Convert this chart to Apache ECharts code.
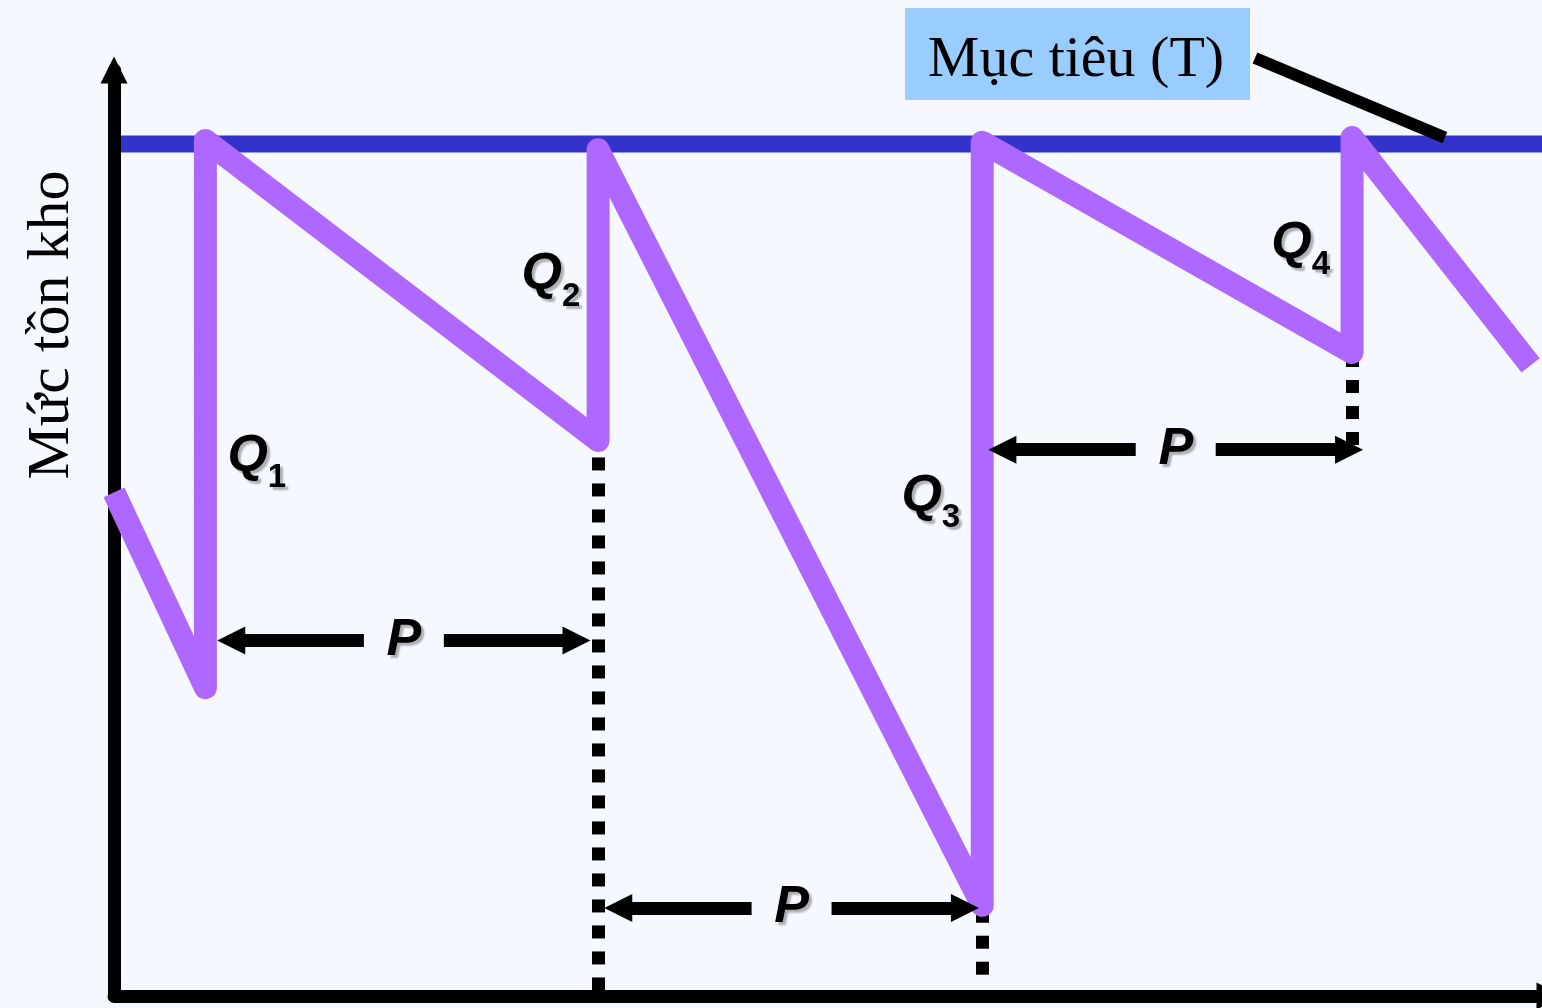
<!DOCTYPE html>
<html>
<head>
<meta charset="utf-8">
<script src="https://cdn.jsdelivr.net/npm/echarts@6/dist/echarts.min.js"></script>
<style>
  html, body { margin: 0; padding: 0; background: #F5F9FF; }
  #chart { width: 1542px; height: 1008px; }
</style>
</head>
<body>
<div id="chart"></div>
<script>
// inventory level over time (x: time 0-100, y: stock 0-100)
const inventoryPath = [
  [0, 54.4], [6.4, 33.3], [6.4, 92.4],
  [33.9, 60.0], [33.9, 91.4],
  [60.8, 9.8], [60.8, 92.2],
  [86.7, 69.5], [86.7, 92.7],
  [99.2, 68.1]
];
const targetLevel = 92.0;
const targetName = 'Mục tiêu (T)';
const yTitle = 'Mức tồn kho';

// review period arrows: [from, to, level]
const periodArrows = [
  [7.3, 33.3, 38.4],
  [34.4, 60.5, 9.5],
  [61.3, 87.4, 59.0]
];
// dotted drop lines: [x, yFrom, yTo]
const dropLines = [
  [33.9, 0.6, 59.5],
  [60.8, 2.3, 9.3],
  [86.7, 59.5, 69.2]
];
// order quantity labels
const orderNames = ['1', '2', '3', '4'];
const orderLabelPos = [[10.0, 57.6], [30.6, 77.2], [57.2, 53.3], [83.1, 80.6]];
// pointer from target label to target line
const targetPointer = [[79.9, 101.3], [93.2, 92.7]];

const ARROW_INSET = 0.91;
const GAP = 2.8;
const shadow = {
  textShadowColor: 'rgba(0,0,0,0.3)',
  textShadowBlur: 2,
  textShadowOffsetX: 3,
  textShadowOffsetY: 3,
  textBorderWidth: 0
};
const sans = '"Liberation Sans", Arial, sans-serif';
const serif = '"Liberation Serif", "Times New Roman", serif';

const chart = echarts.init(document.getElementById('chart'));

function axis(endOffset) {
  return {
    type: 'value',
    min: 0,
    max: 100,
    z: 1,
    axisLine: {
      show: true,
      symbol: ['none', 'triangle'],
      symbolSize: [27, 27],
      symbolOffset: [0, endOffset],
      lineStyle: { color: '#000', width: 13, cap: 'round' }
    },
    axisTick: { show: false },
    axisLabel: { show: false },
    splitLine: { show: false }
  };
}

chart.setOption({
  backgroundColor: '#F5F9FF',
  animation: false,
  grid: { left: 114, right: 0, top: 70, bottom: 12 },
  xAxis: axis(8),
  yAxis: axis(0),
  graphic: [
    {
      type: 'rect',
      shape: { x: 905, y: 8, width: 345, height: 92 },
      style: { fill: '#99CCFF' },
      z: 10
    },
    {
      type: 'text',
      x: 1076, y: 61,
      style: {
        text: targetName,
        fontSize: 58,
        fontFamily: serif,
        fill: '#000',
        align: 'center',
        verticalAlign: 'middle'
      },
      z: 11
    },
    {
      type: 'text',
      x: 52, y: 325,
      rotation: Math.PI / 2,
      style: {
        text: yTitle,
        fontSize: 60,
        fontFamily: serif,
        fill: '#000',
        align: 'center',
        verticalAlign: 'middle'
      }
    }
  ],
  series: [
    {
      name: 'target',
      type: 'line',
      z: 0.5,
      data: [[0, targetLevel], [100, targetLevel]],
      symbol: 'none',
      lineStyle: { color: '#3333CC', width: 17 }
    },
    {
      name: 'drop',
      type: 'lines',
      coordinateSystem: 'cartesian2d',
      data: dropLines.map(([x, y1, y2]) => ({ coords: [[x, y1], [x, y2]] })),
      symbol: 'none',
      lineStyle: { color: '#000', width: 13, opacity: 1, type: [13, 13], cap: 'butt' }
    },
    {
      name: 'inventory',
      type: 'line',
      z: 3,
      data: inventoryPath,
      symbol: 'none',
      lineStyle: { color: '#AF68FF', width: 23, join: 'round', cap: 'butt' }
    },
    {
      name: 'arrowLeft',
      type: 'lines',
      coordinateSystem: 'cartesian2d',
      z: 4,
      data: periodArrows.map(([a, b, y]) => ({ coords: [[a + ARROW_INSET, y], [(a + b) / 2 - GAP, y]] })),
      symbol: ['triangle', 'none'],
      symbolSize: 28,
      lineStyle: { color: '#000', width: 13, opacity: 1 }
    },
    {
      name: 'arrowRight',
      type: 'lines',
      coordinateSystem: 'cartesian2d',
      z: 4,
      data: periodArrows.map(([a, b, y]) => ({ coords: [[(a + b) / 2 + GAP, y], [b - ARROW_INSET, y]] })),
      symbol: ['none', 'triangle'],
      symbolSize: 28,
      lineStyle: { color: '#000', width: 13, opacity: 1 }
    },
    {
      name: 'pointer',
      type: 'lines',
      coordinateSystem: 'cartesian2d',
      clip: false,
      z: 5,
      data: [{ coords: targetPointer }],
      symbol: 'none',
      lineStyle: { color: '#000', width: 12, opacity: 1 }
    },
    {
      name: 'P',
      type: 'scatter',
      z: 6,
      data: periodArrows.map(([a, b, y]) => [(a + b) / 2, y]),
      symbolSize: 2,
      itemStyle: { color: '#000', opacity: 0 },
      label: {
        show: true,
        position: 'inside',
        formatter: 'P',
        fontSize: 52,
        fontStyle: 'italic',
        fontWeight: 'bold',
        fontFamily: sans,
        color: '#000',
        opacity: 1,
        ...shadow
      }
    },
    {
      name: 'Q',
      type: 'scatter',
      z: 6,
      data: orderNames.map((n, i) => ({ name: n, value: orderLabelPos[i] })),
      symbolSize: 2,
      itemStyle: { color: '#000', opacity: 0 },
      label: {
        show: true,
        position: 'inside',
        opacity: 1,
        formatter: (p) => '{q|Q}{s|' + p.name + '}',
        rich: {
          q: {
            fontSize: 52,
            fontStyle: 'italic',
            fontWeight: 'bold',
            fontFamily: sans,
            color: '#000',
            verticalAlign: 'bottom',
            padding: [0, 0, 12, 0],
            ...shadow
          },
          s: {
            fontSize: 33,
            fontWeight: 'bold',
            fontFamily: sans,
            color: '#000',
            verticalAlign: 'bottom',
            ...shadow
          }
        }
      }
    }
  ]
});
</script>
</body>
</html>
